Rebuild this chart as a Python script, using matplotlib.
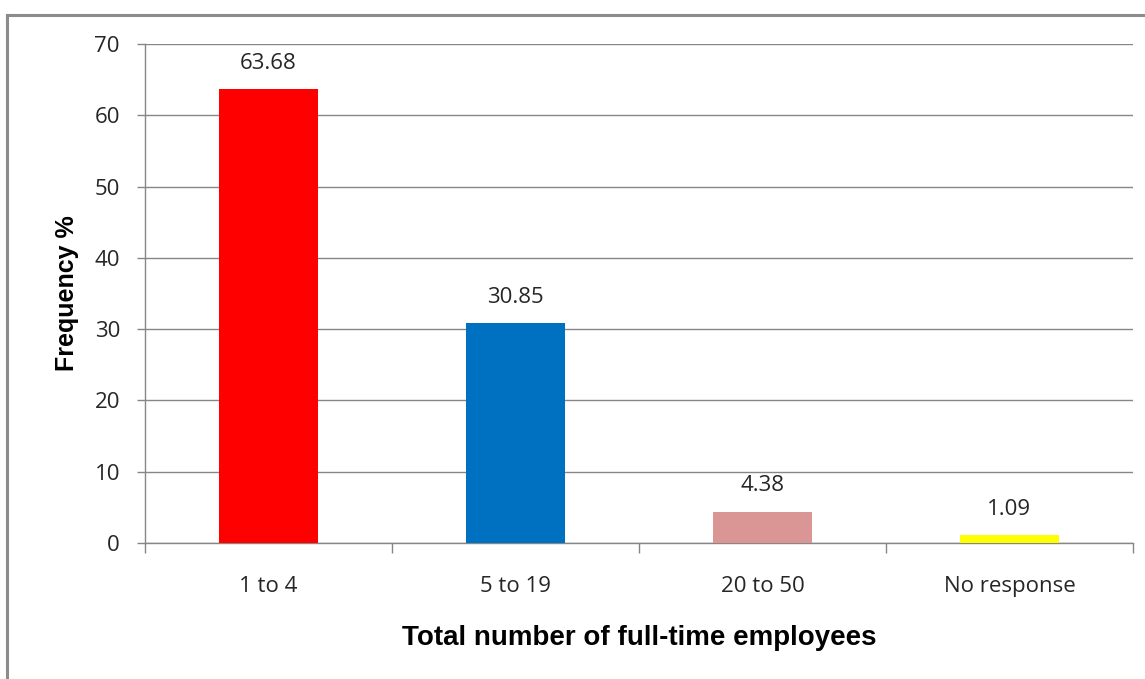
import numpy as np
import matplotlib.pyplot as plt
from matplotlib.lines import Line2D

categories = ['1 to 4', '5 to 19', '20 to 50', 'No response']
freq = [63.68, 30.85, 4.38, 1.09]
labels = ['63.68', '30.85', '4.38', '1.09']
colors = ['#FF0000', '#0070C0', '#D99694', '#FFFF00']

gray = '#868686'
plt.rcParams['font.family'] = ['Open Sans', 'DejaVu Sans']

fig = plt.figure(figsize=(11.45, 6.79), dpi=100)
ax = fig.add_axes([0.1266, 0.2003, 0.8629, 0.7349])

x = np.arange(len(categories))
ax.bar(x, freq, width=0.4, color=colors, zorder=3)
for xi, v, t in zip(x, freq, labels):
    ax.annotate(t, (xi, v), xytext=(0, 11), textcoords='offset points',
                ha='center', va='bottom', fontsize=16, color='#262626')

ax.set_xlim(-0.5, len(categories) - 0.5)
ax.set_ylim(0, 70)
ax.set_yticks(range(0, 71, 10))
ax.yaxis.grid(True, color=gray, linewidth=1, zorder=0)

# boundaries get tick marks, centres get the labels
ax.set_xticks(np.arange(-0.5, len(categories), 1.0))
ax.set_xticklabels([])
ax.set_xticks(x, minor=True)
ax.set_xticklabels(categories, minor=True)
ax.tick_params(axis='x', which='major', length=7, color=gray, width=1)
ax.tick_params(axis='x', which='minor', length=0, pad=24, labelsize=16,
               labelcolor='#262626')
ax.tick_params(axis='y', length=6, color=gray, width=1, pad=12,
               labelsize=16, labelcolor='#262626')

for s in ['top', 'right']:
    ax.spines[s].set_visible(False)
for s in ['left', 'bottom']:
    ax.spines[s].set_color(gray)
    ax.spines[s].set_linewidth(1)

ax.set_xlabel('Total number of full-time employees', fontsize=20,
              fontweight='bold', family='Liberation Sans', labelpad=20)
ax.set_ylabel('Frequency %', fontsize=18, fontweight='bold',
              family='Liberation Sans', labelpad=11)

# outer chart border (only top and left visible in the crop)
fig.add_artist(Line2D([0.006, 1.0], [0.978, 0.978], color='#8c8c8c', lw=2.2))
fig.add_artist(Line2D([0.006, 0.006], [0.0, 0.978], color='#8c8c8c', lw=2.2))

plt.savefig('out.png', dpi=100)
